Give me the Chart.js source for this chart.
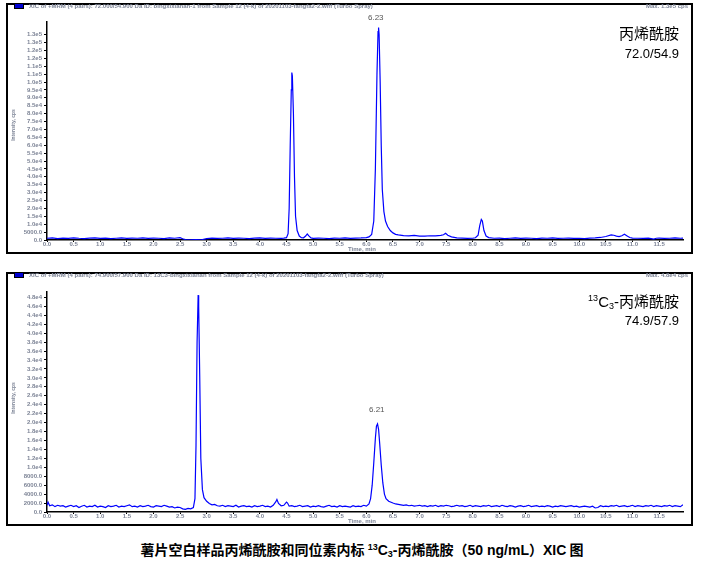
<!DOCTYPE html>
<html><head><meta charset="utf-8">
<script src="https://cdn.jsdelivr.net/npm/chart.js@4"></script>
<style>
html,body{margin:0;padding:0;background:#fff;}
body{width:704px;height:564px;position:relative;overflow:hidden;font-family:"Liberation Sans",Arial,sans-serif;}
.panel{position:absolute;border:2px solid #000;box-sizing:border-box;}
canvas{position:absolute;left:0;}
.hdr{position:absolute;font-size:6px;color:#7d8496;white-space:nowrap;font-weight:bold;}
.mk{position:absolute;width:8px;height:4px;background:#0000d0;border:1px solid #000;}
.ylab{position:absolute;font-size:5px;color:#7d8496;transform:rotate(-90deg);transform-origin:center;white-space:nowrap;font-weight:bold;}
.xlab{position:absolute;font-size:6px;color:#7d8496;white-space:nowrap;font-weight:bold;}
.cmp{position:absolute;font-family:"Noto Sans CJK SC";font-size:15px;color:#000;white-space:nowrap;text-align:right;}
.mrm{position:absolute;font-family:"Liberation Sans",Arial;font-size:13px;color:#000;white-space:nowrap;text-align:right;}
.pk{position:absolute;font-size:8px;color:#555;white-space:nowrap;}
.cap{position:absolute;left:0;width:724px;top:539px;text-align:center;font-family:"Noto Sans CJK SC";font-weight:bold;font-size:14px;color:#000;white-space:nowrap;}
</style></head>
<body>
<canvas id="c1" width="704" height="264" style="top:0px;width:704px;height:264px"></canvas>
<canvas id="c2" width="704" height="268" style="top:268px;width:704px;height:268px"></canvas>
<div class="panel" style="left:6px;top:3px;width:687px;height:251px"></div>
<div class="panel" style="left:6px;top:272px;width:687px;height:254px"></div>
<div class="mk" style="left:14px;top:3px"></div>
<div class="hdr" style="left:29px;top:3px">XIC of +MRM (4 pairs): 72.000/54.900 Da ID: bingxixianan-1 from Sample 12 (4-k) of 20201103-fangfa2-2.wiff (Turbo Spray)</div>
<div class="hdr" style="right:16px;top:3px">Max. 1.3e5 cps</div>
<div class="mk" style="left:14px;top:272px"></div>
<div class="hdr" style="left:29px;top:272px">XIC of +MRM (4 pairs): 74.900/57.900 Da ID: 13C3-bingxixianan from Sample 12 (4-k) of 20201103-fangfa2-2.wiff (Turbo Spray)</div>
<div class="hdr" style="right:16px;top:272px">Max. 4.8e4 cps</div>
<div class="ylab" style="left:-10px;top:122px;width:45px;text-align:center">Intensity, cps</div>
<div class="ylab" style="left:-10px;top:395px;width:45px;text-align:center">Intensity, cps</div>
<div class="xlab" style="left:348px;top:246px">Time, min</div>
<div class="xlab" style="left:348px;top:518px">Time, min</div>
<div class="cmp" style="right:25px;top:22px">丙烯酰胺</div>
<div class="mrm" style="right:25px;top:46px">72.0/54.9</div>
<div class="cmp" style="right:25px;top:290px"><span style="font-family:'Liberation Sans';font-size:9px;vertical-align:6px">13</span><span style="font-family:'Liberation Sans'">C</span><span style="font-family:'Liberation Sans';font-size:9px;vertical-align:-2px">3</span><span style="font-family:'Liberation Sans'">-</span>丙烯酰胺</div>
<div class="mrm" style="right:25px;top:313px">74.9/57.9</div>
<div class="pk" style="left:368px;top:13px">6.23</div>
<div class="pk" style="left:369px;top:405px">6.21</div>
<div class="cap">薯片空白样品丙烯酰胺和同位素内标 <span style="font-family:'Liberation Sans';font-size:9px;vertical-align:5px">13</span><span style="font-family:'Liberation Sans'">C</span><span style="font-family:'Liberation Sans';font-size:9px;vertical-align:-2px">3</span><span style="font-family:'Liberation Sans'">-</span>丙烯酰胺（<span style="font-family:'Liberation Sans'">50 ng/mL</span>）<span style="font-family:'Liberation Sans'">XIC</span> 图</div>
<script>
// ---- data ----
const xTickValues = [0,0.5,1,1.5,2,2.5,3,3.5,4,4.5,5,5.5,6,6.5,7,7.5,8,8.5,9,9.5,10,10.5,11,11.5];
const xTickLabels = ["0.0","0.5","1.0","1.5","2.0","2.5","3.0","3.5","4.0","4.5","5.0","5.5","6.0","6.5","7.0","7.5","8.0","8.5","9.0","9.5","10.0","10.5","11.0","11.5"];

const yTickValuesTop = [0,5000,10000,15000,20000,25000,30000,35000,40000,45000,50000,55000,60000,65000,70000,75000,80000,85000,90000,95000,100000,105000,110000,115000,120000,125000,130000];
const yTickLabelsTop = ["0.0","5000.0","1.0e4","1.5e4","2.0e4","2.5e4","3.0e4","3.5e4","4.0e4","4.5e4","5.0e4","5.5e4","6.0e4","6.5e4","7.0e4","7.5e4","8.0e4","8.5e4","9.0e4","9.5e4","1.0e5","1.1e5","1.1e5","1.2e5","1.2e5","1.3e5","1.3e5"];

const yTickValuesBot = [0,2000,4000,6000,8000,10000,12000,14000,16000,18000,20000,22000,24000,26000,28000,30000,32000,34000,36000,38000,40000,42000,44000,46000,48000];
const yTickLabelsBot = ["0.0","2000.0","4000.0","6000.0","8000.0","1.0e4","1.2e4","1.4e4","1.6e4","1.8e4","2.0e4","2.2e4","2.4e4","2.6e4","2.8e4","3.0e4","3.2e4","3.4e4","3.6e4","3.8e4","4.0e4","4.2e4","4.4e4","4.6e4","4.8e4"];

// acrylamide 72.0/54.9 (time, min / intensity, cps)
const timeTop = [
 0.00,0.10,0.20,0.30,0.40,0.50,0.60,0.70,0.80,0.90,
 1.00,1.10,1.20,1.30,1.40,1.50,1.60,1.70,1.80,1.90,
 2.00,2.10,2.20,2.30,2.40,2.50,2.55,2.60,2.70,2.80,
 2.90,3.00,3.10,3.20,3.30,3.40,3.50,3.60,3.70,3.80,
 3.90,4.00,4.10,4.20,4.30,4.40,4.45,4.50,4.53,4.55,
 4.57,4.59,4.60,4.61,4.63,4.65,4.67,4.70,4.74,4.78,
 4.82,4.86,4.89,4.92,4.96,5.00,5.10,5.20,5.30,5.40,
 5.50,5.60,5.70,5.80,5.90,6.00,6.05,6.10,6.14,6.17,
 6.20,6.22,6.23,6.24,6.26,6.28,6.30,6.33,6.36,6.40,
 6.45,6.50,6.55,6.60,6.70,6.80,6.90,7.00,7.10,7.20,
 7.30,7.40,7.45,7.49,7.53,7.60,7.70,7.80,7.90,8.00,
 8.05,8.10,8.13,8.16,8.18,8.21,8.25,8.30,8.40,8.50,
 8.60,8.70,8.80,8.90,9.00,9.10,9.20,9.30,9.40,9.50,
 9.60,9.70,9.80,9.90,10.00,10.10,10.20,10.30,10.40,10.50,
 10.60,10.65,10.70,10.75,10.80,10.85,10.90,10.95,11.00,11.10,
 11.20,11.30,11.40,11.45,11.50,11.60,11.70,11.80,11.90,11.95];
const intensityTop = [
 1100,1300,900,1200,1000,1400,1100,900,1200,1300,
 1000,1200,900,1100,1300,1000,1200,1100,1400,1000,
 1200,1100,900,1300,1100,1500,800,300,100,200,
 150,900,1200,1000,1100,1300,1000,1200,1100,900,
 1200,1300,1000,1200,1100,1000,1200,1500,4000,20000,
 60000,95000,106000,104000,80000,40000,15000,6000,2500,1500,
 1400,2500,3800,2600,1300,1000,1200,1100,900,1200,
 1100,1300,1000,1200,1300,1500,2000,3500,12000,45000,
 105000,132000,134500,130000,100000,60000,32000,18000,12000,8500,
 6000,4500,3600,3200,2800,2600,2900,2400,2500,2700,
 2600,2900,3300,4200,3000,2000,1300,1200,1000,1100,
 1400,3000,9000,13000,12000,6000,2500,1500,1100,1200,
 900,1100,1300,1000,1200,1100,900,1200,1100,1300,
 1000,1100,1200,1000,1100,900,1200,1300,1600,2200,
 3200,3000,2500,2200,2700,3600,2600,1600,1200,1100,
 1000,1200,600,1100,1200,1000,1100,1300,1100,1200];

// 13C3-acrylamide 74.9/57.9
const timeBot = [
 0.00,0.02,0.05,0.10,0.15,0.20,0.25,0.30,0.35,0.40,
 0.45,0.50,0.55,0.60,0.65,0.70,0.75,0.80,0.85,0.90,
 0.95,1.00,1.05,1.10,1.15,1.20,1.25,1.30,1.35,1.40,
 1.45,1.50,1.55,1.60,1.65,1.70,1.75,1.80,1.85,1.90,
 1.95,2.00,2.05,2.10,2.15,2.20,2.25,2.30,2.35,2.40,
 2.45,2.50,2.55,2.60,2.65,2.70,2.75,2.78,2.80,2.82,
 2.84,2.85,2.87,2.89,2.92,2.95,3.00,3.05,3.10,3.15,
 3.20,3.25,3.30,3.35,3.40,3.45,3.50,3.55,3.60,3.65,
 3.70,3.75,3.80,3.85,3.90,3.95,4.00,4.05,4.10,4.15,
 4.20,4.25,4.30,4.32,4.35,4.40,4.45,4.50,4.52,4.55,
 4.60,4.65,4.70,4.75,4.80,4.85,4.90,4.95,5.00,5.05,
 5.10,5.15,5.20,5.25,5.30,5.35,5.40,5.45,5.50,5.55,
 5.60,5.65,5.70,5.75,5.80,5.85,5.90,5.95,6.00,6.05,
 6.08,6.11,6.14,6.17,6.19,6.21,6.23,6.25,6.28,6.31,
 6.34,6.37,6.42,6.50,6.55,6.60,6.65,6.70,6.75,6.80,
 6.85,6.90,6.95,7.00,7.05,7.10,7.15,7.20,7.25,7.30,
 7.35,7.40,7.45,7.50,7.55,7.60,7.65,7.70,7.75,7.80,
 7.85,7.90,7.95,8.00,8.05,8.10,8.15,8.20,8.25,8.30,
 8.35,8.40,8.45,8.50,8.55,8.60,8.65,8.70,8.75,8.80,
 8.85,8.90,8.95,9.00,9.05,9.10,9.15,9.20,9.25,9.30,
 9.35,9.40,9.45,9.50,9.55,9.60,9.65,9.70,9.75,9.80,
 9.85,9.90,9.95,10.00,10.05,10.10,10.15,10.20,10.25,10.30,
 10.35,10.40,10.45,10.50,10.55,10.60,10.65,10.70,10.75,10.80,
 10.85,10.90,10.95,11.00,11.05,11.10,11.15,11.20,11.25,11.30,
 11.35,11.40,11.45,11.50,11.55,11.60,11.65,11.70,11.75,11.80,
 11.85,11.90,11.95];
const intensityBot = [
 1500,2200,1400,1600,1200,1500,1300,1400,1100,1300,
 1500,1200,1400,1000,1300,1500,1100,1300,1200,1500,
 1100,1300,1200,1000,1400,1200,1300,1500,1100,1300,
 1200,1400,1600,1200,1300,1100,1400,1200,1300,1500,
 1200,1100,1400,1300,1200,1500,1300,1100,1200,900,
 1100,1000,700,600,800,700,1000,3000,15000,38000,
 48500,46000,30000,12000,5000,3200,2400,1900,1600,1700,
 1400,1300,1500,1200,1400,1300,1200,1500,1100,1300,
 1400,1200,1300,1100,1400,1200,1300,1500,1200,1300,
 1100,1500,2300,2800,1900,1400,1500,2200,2000,1300,
 1400,1200,1300,1500,1200,1300,1400,1100,1300,1200,
 1400,1200,1100,1300,1500,1200,1300,1100,1400,1200,
 1300,1200,1100,1400,1200,1300,1200,1500,1300,1800,
 3000,6000,11000,16500,19200,19700,18500,15500,10500,6500,
 4000,3000,2400,2000,1800,1700,1600,1500,1600,1400,
 1500,1300,1400,1500,1300,1400,1200,1400,1300,1500,
 1200,1400,1300,1500,1400,1200,1300,1500,1300,1400,
 1200,1300,1500,1200,1400,1300,1200,1400,1300,1500,
 1200,1300,1400,1200,1500,1300,1200,1400,1300,1100,
 1300,1400,1200,1300,1500,1200,1300,1400,1200,1300,
 1200,1400,1300,1100,1300,1200,1400,1300,1200,1300,
 1400,1200,1300,1100,1200,1300,1200,1100,1300,900,
 1000,1400,1200,1300,1200,1400,1300,1500,1200,1300,
 1400,1200,1300,1500,1200,1400,1300,1200,1400,1300,
 1500,1200,1400,1300,1200,1400,1300,1500,1200,1400,
 1300,1200,1600];

// ---- chart builder ----
function pts(t, v){ const n=Math.min(t.length,v.length); const out=[]; for(let i=0;i<n;i++) out.push({x:t[i], y:v[i]}); return out; }
const tickFont = {family:"Liberation Sans", size:6, weight:"bold"};
const tickCol = "#7d8496";
function makeChart(id, t, v, yMax, yVals, yLabs, padTop){
  return new Chart(document.getElementById(id), {
    type:'line',
    data:{datasets:[{data:pts(t,v), borderColor:'#0000ff', borderWidth:1.2, pointRadius:0, tension:0, fill:false}]},
    options:{
      responsive:false, animation:false,
      layout:{padding:{left:0,right:21,top:padTop,bottom:0}},
      plugins:{legend:{display:false}, tooltip:{enabled:false}},
      scales:{
        x:{type:'linear', min:0, max:11.95,
           afterBuildTicks:s=>{s.ticks = xTickValues.map(val=>({value:val}));},
           afterFit:s=>{s.height=24;},
           ticks:{autoSkip:false, maxRotation:0, font:tickFont, color:tickCol, padding:-1,
                  callback:(val,i)=>xTickLabels[i]},
           grid:{display:true, drawOnChartArea:false, drawTicks:true, tickLength:2, tickColor:'#000'},
           border:{color:'#000', width:1.5}},
        y:{type:'linear', min:0, max:yMax,
           afterBuildTicks:s=>{s.ticks = yVals.map(val=>({value:val}));},
           afterFit:s=>{s.width=47;},
           ticks:{autoSkip:false, font:tickFont, color:tickCol, padding:2,
                  callback:(val,i)=>yLabs[i]},
           grid:{display:true, drawOnChartArea:false, drawTicks:true, tickLength:3, tickColor:'#000'},
           border:{color:'#000', width:1.5}}
      }
    }
  });
}
makeChart('c1', timeTop, intensityTop, 138000, yTickValuesTop, yTickLabelsTop, 22);
makeChart('c2', timeBot, intensityBot, 49200, yTickValuesBot, yTickLabelsBot, 24);
</script>
</body></html>
